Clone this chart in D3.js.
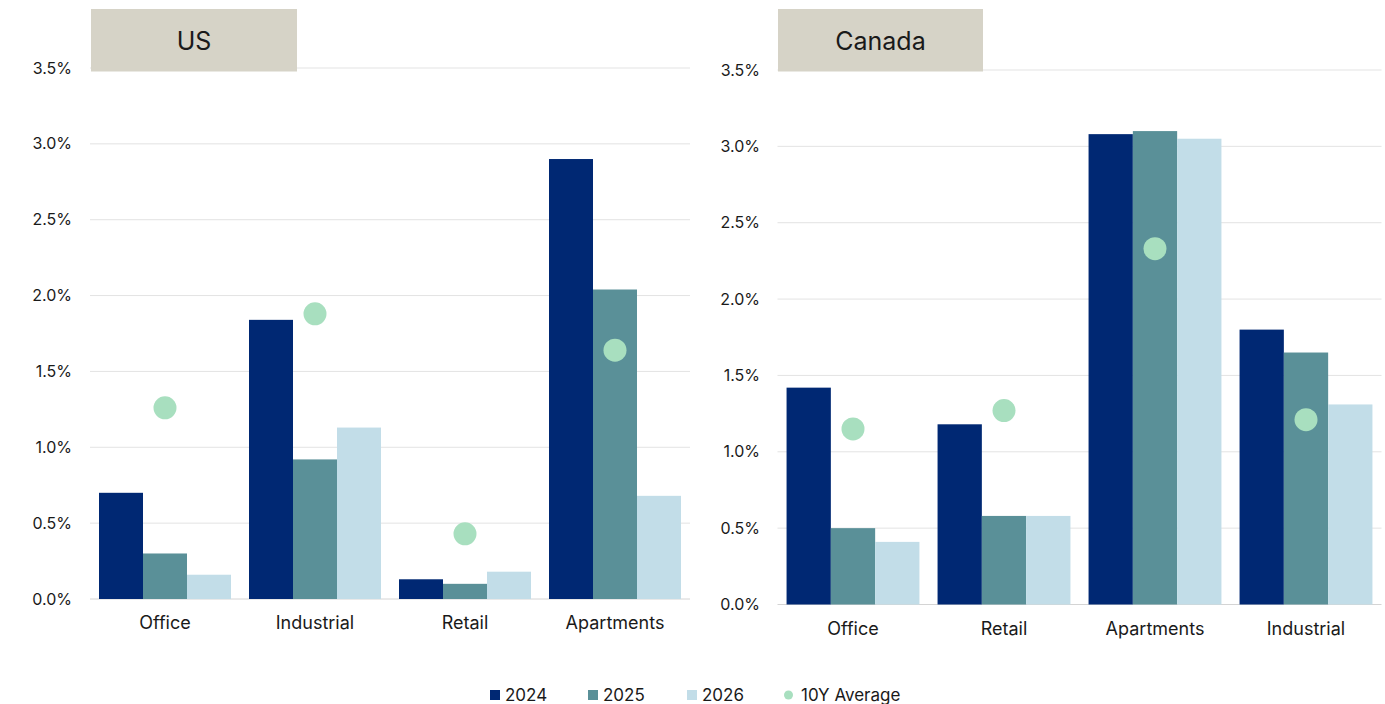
<!DOCTYPE html>
<html><head><meta charset="utf-8">
<script src="https://cdn.jsdelivr.net/npm/d3@7"></script>
<style>body{margin:0;background:#fff;} text{font-family:Inter, "Noto Sans", sans-serif;fill:#1a1a1a;}</style>
</head><body><svg id="c" width="1385" height="704"></svg>
<script>
const series = ["2024","2025","2026"];
const seriesColors = ["#002873","#5a9098","#c2dde8"];
const avgColor = "#a8dfbf";
const yTicks = [0,0.5,1.0,1.5,2.0,2.5,3.0,3.5];

const usCategories = ["Office","Industrial","Retail","Apartments"];
const us2024 = [0.70,1.84,0.13,2.90];
const us2025 = [0.30,0.92,0.10,2.04];
const us2026 = [0.16,1.13,0.18,0.68];
const usAvg  = [1.26,1.88,0.43,1.64];

const caCategories = ["Office","Retail","Apartments","Industrial"];
const ca2024 = [1.42,1.18,3.08,1.80];
const ca2025 = [0.50,0.58,3.10,1.65];
const ca2026 = [0.41,0.58,3.05,1.31];
const caAvg  = [1.15,1.27,2.33,1.21];

const svg = d3.select("#c");

function panel(opt){
  const {title, cats, vals, avg, x0, x1, yBase, yTop, titleBox, labelY, axisRight} = opt;
  const x = d3.scaleBand().domain(cats).range([x0,x1]).paddingInner(0.12).paddingOuter(0.06);
  const xs = d3.scaleBand().domain(series).range([0,x.bandwidth()]);
  const y = d3.scaleLinear().domain([0,3.5]).range([yBase,yTop]);
  const g = svg.append("g");
  g.selectAll("line.grid").data(yTicks).join("line")
    .attr("x1",x0).attr("x2",x1).attr("y1",d=>y(d)).attr("y2",d=>y(d))
    .attr("stroke",d=>d===0?"#d4d4d4":"#e3e3e3").attr("stroke-width",1);
  g.selectAll("text.yl").data(yTicks).join("text")
    .attr("x",axisRight).attr("y",d=>y(d)).attr("dy","0.35em")
    .attr("text-anchor","end").attr("font-size",16).text(d=>d.toFixed(1)+"%");
  series.forEach((s,si)=>{
    g.selectAll("rect.s"+si).data(cats).join("rect")
      .attr("x",c=>x(c)+xs(s)).attr("width",xs.bandwidth())
      .attr("y",(c,i)=>y(vals[si][i])).attr("height",(c,i)=>y(0)-y(vals[si][i]))
      .attr("fill",seriesColors[si]);
  });
  g.selectAll("circle.avg").data(cats).join("circle")
    .attr("cx",c=>x(c)+x.bandwidth()/2).attr("cy",(c,i)=>y(avg[i])).attr("r",11.5)
    .attr("fill",avgColor);
  g.selectAll("text.cat").data(cats).join("text")
    .attr("x",c=>x(c)+x.bandwidth()/2).attr("y",labelY).attr("dy","0.35em")
    .attr("text-anchor","middle").attr("font-size",18).text(c=>c);
  g.append("rect").attr("x",titleBox[0]).attr("y",9).attr("width",titleBox[1]-titleBox[0]).attr("height",62.5).attr("fill","#d6d3c7");
  g.append("text").attr("x",(titleBox[0]+titleBox[1])/2).attr("y",41).attr("dy","0.35em")
    .attr("text-anchor","middle").attr("font-size",25).attr("fill","#111").text(title);
}

panel({title:"US", cats:usCategories, vals:[us2024,us2025,us2026], avg:usAvg,
  x0:90, x1:690, yBase:599, yTop:68, titleBox:[91,297], labelY:623, axisRight:72});
panel({title:"Canada", cats:caCategories, vals:[ca2024,ca2025,ca2026], avg:caAvg,
  x0:777.5, x1:1381.5, yBase:604.5, yTop:70, titleBox:[778,983], labelY:629, axisRight:760});

const legendItems = [
  {label:"2024", color:seriesColors[0], type:"rect", x:490},
  {label:"2025", color:seriesColors[1], type:"rect", x:588},
  {label:"2026", color:seriesColors[2], type:"rect", x:687},
  {label:"10Y Average", color:avgColor, type:"circle", x:784}
];
const lg = svg.append("g");
legendItems.forEach(it=>{
  if(it.type==="rect"){
    lg.append("rect").attr("x",it.x).attr("y",690).attr("width",10).attr("height",10).attr("fill",it.color);
  } else {
    lg.append("circle").attr("cx",it.x+4.5).attr("cy",695).attr("r",4.5).attr("fill",it.color);
  }
  lg.append("text").attr("x",it.x+(it.type==="rect"?15:17)).attr("y",695).attr("dy","0.35em")
    .attr("font-size",17).text(it.label);
});
</script></body></html>
